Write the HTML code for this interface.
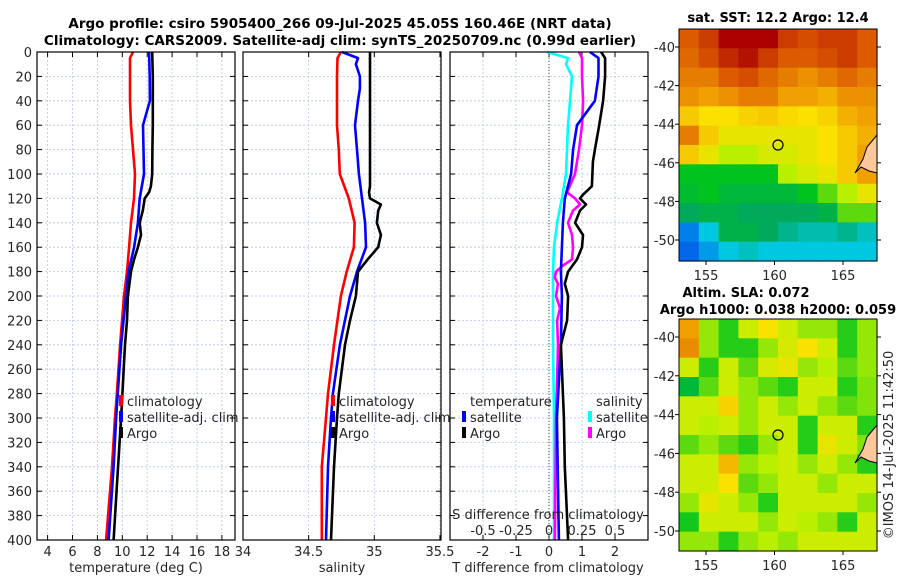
<!DOCTYPE html>
<html><head><meta charset="utf-8"><style>
body{margin:0;background:#fff;}
svg{display:block;font-family:"DejaVu Sans","Liberation Sans",sans-serif;}
</style></head><body>
<svg id="fig" width="900" height="580" viewBox="0 0 900 580" xmlns="http://www.w3.org/2000/svg">
<rect width="900" height="580" fill="#fff"/>
<text x="340" y="28" font-size="13.5" font-weight="bold" text-anchor="middle" fill="#000">Argo profile: csiro 5905400_266 09-Jul-2025 45.05S 160.46E (NRT data)</text>
<text x="340" y="45" font-size="13.5" font-weight="bold" text-anchor="middle" fill="#000">Climatology: CARS2009. Satellite-adj clim: synTS_20250709.nc (0.99d earlier)</text>
<g id="p1"></g>
<g id="p2"></g>
<g id="p3"></g>
<g id="m1"></g>
<g id="m2"></g>
<text x="778" y="22" font-size="13" font-weight="bold" text-anchor="middle">sat. SST: 12.2 Argo: 12.4</text>
<text x="746" y="297" font-size="13" font-weight="bold" text-anchor="middle">Altim. SLA: 0.072</text>
<text x="778" y="314" font-size="13" font-weight="bold" text-anchor="middle">Argo h1000: 0.038 h2000: 0.059</text>
<text transform="translate(893,445) rotate(-90)" font-size="13" text-anchor="middle" fill="#262626">©IMOS 14-Jul-2025 11:42:50</text>
</svg>
<script>
// ---- data ----
const depthTicks=[0,20,40,60,80,100,120,140,160,180,200,220,240,260,280,300,320,340,360,380,400];
const tTicks=[4,6,8,10,12,14,16,18];
const sTicks=[34,34.5,35,35.5];
const sTickLabels=["34","34.5","35","35.5"];
const dTTicks=[-2,-1,0,1,2];
const dSTicks=[-0.5,-0.25,0,0.25,0.5];
const dSTickLabels=["-0.5","-0.25","0","0.25","0.5"];

const tClimDepth=[0,5,20,40,60,80,100,120,140,160,180,200,240,280,300,340,400];
const tClim=[10.86,10.62,10.62,10.62,10.7,10.86,11.02,10.94,10.7,10.55,10.38,10.14,9.82,9.57,9.41,9.17,8.7];
const tSatDepth=[0,20,40,60,100,120,140,160,180,200,240,300,340,400];
const tSat=[12.15,12.2,12.22,11.66,11.74,11.4,11.25,10.95,10.5,10.3,9.9,9.5,9.3,8.9];
const tArgoDepth=[0,20,40,60,80,100,110,115,120,130,140,150,160,170,180,200,220,240,300,350,400];
const tArgo=[12.4,12.45,12.45,12.45,12.42,12.4,12.3,12.15,11.8,11.65,11.4,11.5,11.25,10.95,10.7,10.45,10.38,10.22,9.9,9.6,9.3];

const sClimDepth=[0,5,20,40,60,80,100,120,140,160,180,200,240,280,300,340,400];
const sClim=[34.746,34.72,34.716,34.716,34.716,34.73,34.737,34.806,34.85,34.845,34.79,34.746,34.693,34.647,34.632,34.60,34.60];
const sSatDepth=[0,5,10,20,30,40,60,80,100,120,140,160,180,200,240,280,300,340,400];
const sSat=[34.754,34.876,34.86,34.89,34.89,34.876,34.853,34.868,34.883,34.906,34.93,34.937,34.868,34.815,34.738,34.685,34.67,34.647,34.632];
const sArgoDepth=[0,110,115,120,125,130,140,150,160,170,180,200,220,240,280,300,340,400];
const sArgo=[34.967,34.967,34.96,34.967,35.05,35.03,35.02,35.05,35.03,34.95,34.876,34.86,34.815,34.777,34.73,34.716,34.693,34.67];

const dTSatDepth=[0,5,20,40,60,80,100,120,140,160,180,200,240,300,400];
const dTSat=[1.24,1.5,1.5,1.39,0.85,0.73,0.67,0.48,0.42,0.39,0.36,0.39,0.36,0.24,0.3];
const dTArgoDepth=[0,5,20,40,60,80,90,110,117,120,125,130,140,150,160,170,180,190,200,220,240,300,340,400];
const dTArgo=[1.58,1.7,1.7,1.64,1.52,1.39,1.33,1.3,1.03,0.94,1.12,0.94,0.79,1.03,1.0,0.85,0.58,0.48,0.58,0.55,0.36,0.45,0.48,0.58];
const dSSatDepth=[0,5,10,20,40,60,80,100,120,140,160,180,200,240,300,400];
const dSSat=[-0.015,0.144,0.129,0.174,0.159,0.144,0.136,0.129,0.098,0.061,0.038,0.03,0.03,0.03,0.038,0.038];
const dSArgoDepth=[0,5,20,40,60,80,100,115,120,125,130,140,150,160,170,175,180,185,190,200,210,220,240,300,400];
const dSArgo=[0.227,0.25,0.25,0.258,0.25,0.227,0.197,0.136,0.197,0.235,0.182,0.144,0.174,0.182,0.174,0.106,0.053,0.045,0.068,0.053,0.083,0.061,0.068,0.053,0.045];

const sstGrid=[
[0.8,0.85,0.95,0.95,0.95,0.85,0.82,0.85,0.85,0.8],
[0.78,0.82,0.88,0.92,0.85,0.8,0.8,0.82,0.85,0.8],
[0.75,0.75,0.8,0.82,0.78,0.75,0.72,0.75,0.78,0.75],
[0.72,0.7,0.72,0.75,0.75,0.7,0.7,0.68,0.72,0.72],
[0.65,0.62,0.62,0.64,0.65,0.63,0.62,0.64,0.68,0.7],
[0.75,0.65,0.6,0.6,0.6,0.6,0.6,0.62,0.65,0.68],
[0.65,0.6,0.55,0.55,0.58,0.58,0.6,0.62,0.65,0.7],
[0.45,0.45,0.45,0.45,0.45,0.55,0.58,0.6,0.65,0.7],
[0.43,0.45,0.42,0.42,0.42,0.42,0.45,0.5,0.55,0.6],
[0.38,0.4,0.4,0.38,0.38,0.38,0.38,0.4,0.5,0.5],
[0.22,0.3,0.4,0.4,0.38,0.35,0.33,0.33,0.35,0.32],
[0.18,0.25,0.3,0.32,0.3,0.3,0.3,0.3,0.3,0.3]];
const slaGrid=[
[0.7,0.53,0.47,0.57,0.62,0.57,0.53,0.53,0.47,0.53],
[0.73,0.53,0.47,0.47,0.53,0.58,0.62,0.57,0.47,0.53],
[0.57,0.47,0.57,0.5,0.58,0.6,0.53,0.55,0.5,0.53],
[0.42,0.5,0.57,0.53,0.5,0.47,0.57,0.57,0.47,0.52],
[0.57,0.57,0.64,0.53,0.57,0.53,0.57,0.53,0.5,0.52],
[0.57,0.55,0.57,0.53,0.57,0.57,0.47,0.57,0.57,0.47],
[0.5,0.53,0.5,0.47,0.53,0.57,0.47,0.6,0.57,0.52],
[0.57,0.57,0.67,0.53,0.55,0.57,0.53,0.57,0.53,0.47],
[0.57,0.57,0.62,0.5,0.53,0.57,0.57,0.53,0.57,0.57],
[0.53,0.6,0.57,0.53,0.47,0.57,0.57,0.57,0.57,0.53],
[0.46,0.57,0.57,0.57,0.53,0.57,0.55,0.53,0.47,0.57],
[0.53,0.53,0.47,0.53,0.55,0.53,0.57,0.57,0.57,0.57]];
const lonTicks=[155,160,165];
const latTicks=[-40,-42,-44,-46,-48,-50];

// ---- drawing ----
const NS="http://www.w3.org/2000/svg";
function mk(parent,tag,attrs){const e=document.createElementNS(NS,tag);for(const k in attrs)e.setAttribute(k,attrs[k]);parent.appendChild(e);return e;}
const Y0=52,Y1=540;
const yD=d=>Y0+(d/400)*(Y1-Y0);
const xT=t=>47.6+(t-4)*12.45;
const xS=s=>243+(s-34)*131.3;
const xDT=t=>549+t*33;
const xDS=s=>549+s*132;
const GRID="#b8c4e8";

function frame(g,x0,x1,xticks,xfn,labels,showY){
  depthTicks.forEach(d=>{
    const l=mk(g,'line',{x1:x0,x2:x1,y1:yD(d),y2:yD(d),stroke:GRID,'stroke-width':0.8,'stroke-dasharray':'2,2'});
    
    mk(g,'line',{x1:x0,x2:x0+5,y1:yD(d),y2:yD(d),stroke:'#000','stroke-width':1});
    mk(g,'line',{x1:x1-5,x2:x1,y1:yD(d),y2:yD(d),stroke:'#000','stroke-width':1});
    if(showY){const t=mk(g,'text',{x:x0-5,y:yD(d)+5,'font-size':13,'text-anchor':'end',fill:'#262626'});t.textContent=d;
      }
  });
  xticks.forEach((v,i)=>{
    const x=xfn(v);
    if(x>x0+1&&x<x1-1){const l=mk(g,'line',{x1:x,x2:x,y1:Y0,y2:Y1,stroke:GRID,'stroke-width':0.8,'stroke-dasharray':'2,2'});
      }
    mk(g,'line',{x1:x,x2:x,y1:Y1-5,y2:Y1,stroke:'#000'});
    mk(g,'line',{x1:x,x2:x,y1:Y0,y2:Y0+5,stroke:'#000'});
    const t=mk(g,'text',{x:x,y:556,'font-size':13,'text-anchor':'middle',fill:'#262626'});t.textContent=labels?labels[i]:v;
    
  });
}
function box(g,x0,x1){const r=mk(g,'rect',{x:x0,y:Y0,width:x1-x0,height:Y1-Y0,fill:'none',stroke:'#000','stroke-width':1.2});}
function line(g,depths,vals,xfn,color,name){
  const p=mk(g,'polyline',{points:depths.map((d,i)=>xfn(vals[i]).toFixed(1)+','+yD(d).toFixed(1)).join(' '),fill:'none',stroke:color,'stroke-width':2.6,'stroke-linejoin':'round'});
  
}
function legend(g,x,y,color,label,name){
  const m=mk(g,'line',{x1:x,x2:x,y1:y-11,y2:y,stroke:color,'stroke-width':4});
  
  const t=mk(g,'text',{x:x+6,y:y,'font-size':13,fill:'#262626'});t.textContent=label;
  
}
function txt(g,x,y,s,anchor,name){const t=mk(g,'text',{x:x,y:y,'font-size':13,'text-anchor':anchor,fill:'#262626'});t.textContent=s;return t;}

// panel 1
const p1=document.getElementById('p1');
frame(p1,37,235,tTicks,xT,null,true);
line(p1,tClimDepth,tClim,xT,'#ff0000','temp-climatology-line');
line(p1,tSatDepth,tSat,xT,'#0000ff','temp-satellite-line');
line(p1,tArgoDepth,tArgo,xT,'#000000','temp-argo-line');
box(p1,37,235);
legend(p1,121,406,'#ff0000','climatology','legend-climatology');
legend(p1,121,422,'#0000ff','satellite-adj. clim','legend-satellite-adj');
legend(p1,121,438,'#000000','Argo','legend-argo');
txt(p1,136,572,'temperature (deg C)','middle','x-axis-title');

// panel 2
const p2=document.getElementById('p2');
frame(p2,243,441,sTicks,xS,sTickLabels,false);
line(p2,sClimDepth,sClim,xS,'#ff0000','sal-climatology-line');
line(p2,sSatDepth,sSat,xS,'#0000ff','sal-satellite-line');
line(p2,sArgoDepth,sArgo,xS,'#000000','sal-argo-line');
box(p2,243,441);
legend(p2,333,406,'#ff0000','climatology','legend-climatology');
legend(p2,333,422,'#0000ff','satellite-adj. clim','legend-satellite-adj');
legend(p2,333,438,'#000000','Argo','legend-argo');
txt(p2,342,572,'salinity','middle','x-axis-title');

// panel 3
const p3=document.getElementById('p3');
frame(p3,450,648,dTTicks,xDT,null,false);
const z=mk(p3,'line',{x1:xDT(0),x2:xDT(0),y1:Y0,y2:Y1,stroke:'#335533','stroke-width':1,'stroke-dasharray':'1,2'});

line(p3,dSSatDepth,dSSat,xDS,'#00ffff','sdiff-satellite-line');
line(p3,dSArgoDepth,dSArgo,xDS,'#ff00ff','sdiff-argo-line');
line(p3,dTSatDepth,dTSat,xDT,'#0000ff','tdiff-satellite-line');
line(p3,dTArgoDepth,dTArgo,xDT,'#000000','tdiff-argo-line');
box(p3,450,648);
txt(p3,470,406,'temperature','start','legend-temperature-header');
legend(p3,464,422,'#0000ff','satellite','legend-t-satellite');
legend(p3,464,438,'#000000','Argo','legend-t-argo');
txt(p3,596,406,'salinity','start','legend-salinity-header');
legend(p3,590,422,'#00ffff','satellite','legend-s-satellite');
legend(p3,590,438,'#ff00ff','Argo','legend-s-argo');
txt(p3,548,519,'S difference from climatology','middle','s-axis-title');
dSTicks.forEach((v,i)=>{txt(p3,xDS(v),535,dSTickLabels[i],'middle','s-tick-label');});
txt(p3,548,572,'T difference from climatology','middle','x-axis-title');

// maps
const cmapStops=[[0,0,40,200],[0.2,0,110,235],[0.3,0,200,225],[0.38,0,170,90],[0.45,0,195,30],[0.55,185,240,0],[0.62,250,225,0],[0.7,240,160,0],[0.8,220,90,0],[0.95,170,0,0],[1,150,0,0]];
function cmap(v){
  for(let i=1;i<cmapStops.length;i++){const a=cmapStops[i-1],b=cmapStops[i];
    if(v<=b[0]){const f=Math.max(0,(v-a[0])/(b[0]-a[0]));return `rgb(${Math.round(a[1]+f*(b[1]-a[1]))},${Math.round(a[2]+f*(b[2]-a[2]))},${Math.round(a[3]+f*(b[3]-a[3]))})`;}}
  return 'rgb(150,0,0)';
}
function map(id,grid,x0,y0,w,h,lat40,lat50,cx,cy){
  const g=document.getElementById(id);
  const rows=grid.length,cols=grid[0].length,cw=w/cols,ch=h/rows;
  grid.forEach((row,r)=>row.forEach((v,c)=>{
    const e=mk(g,'rect',{x:(x0+c*cw).toFixed(2),y:(y0+r*ch).toFixed(2),width:(cw+0.6).toFixed(2),height:(ch+0.6).toFixed(2),fill:cmap(v)});
    
  }));
  const land=mk(g,'path',{d:`M${x0+w} ${cy-10} L${x0+w-10} ${cy+2} L${x0+w-14} ${cy+14} L${x0+w-22} ${cy+28} L${x0+w-16} ${cy+22} L${x0+w-8} ${cy+26} L${x0+w} ${cy+28} Z`,fill:'#fcc89b',stroke:'#000','stroke-width':1});
  
  const ci=mk(g,'circle',{cx:cx,cy:cy,r:5,fill:'none',stroke:'#000','stroke-width':1.2});
  
  const rr=mk(g,'rect',{x:x0,y:y0,width:w,height:h,fill:'none',stroke:'#000','stroke-width':1});
  
  const ly=lat=>lat40+(lat+40)/(-10)*(lat50-lat40);
  latTicks.forEach(l=>{const y=ly(l);mk(g,'line',{x1:x0+w,x2:x0+w+4,y1:y,y2:y,stroke:'#000'});mk(g,'line',{x1:x0-4,x2:x0,y1:y,y2:y,stroke:'#000'});
    txt(g,x0-4,y+5,String(l),'end','lat-tick-label');});
  const lx=lon=>706+(lon-155)*13.7;
  lonTicks.forEach(l=>{const x=lx(l);mk(g,'line',{x1:x,x2:x,y1:y0+h,y2:y0+h+4,stroke:'#000'});
    txt(g,x,y0+h+19,String(l),'middle','lon-tick-label');});
}
map('m1',sstGrid,679,29,198,232,47,240,778,145);
map('m2',slaGrid,679,319,198,232,337,531,778,435);
</script>
</body></html>
